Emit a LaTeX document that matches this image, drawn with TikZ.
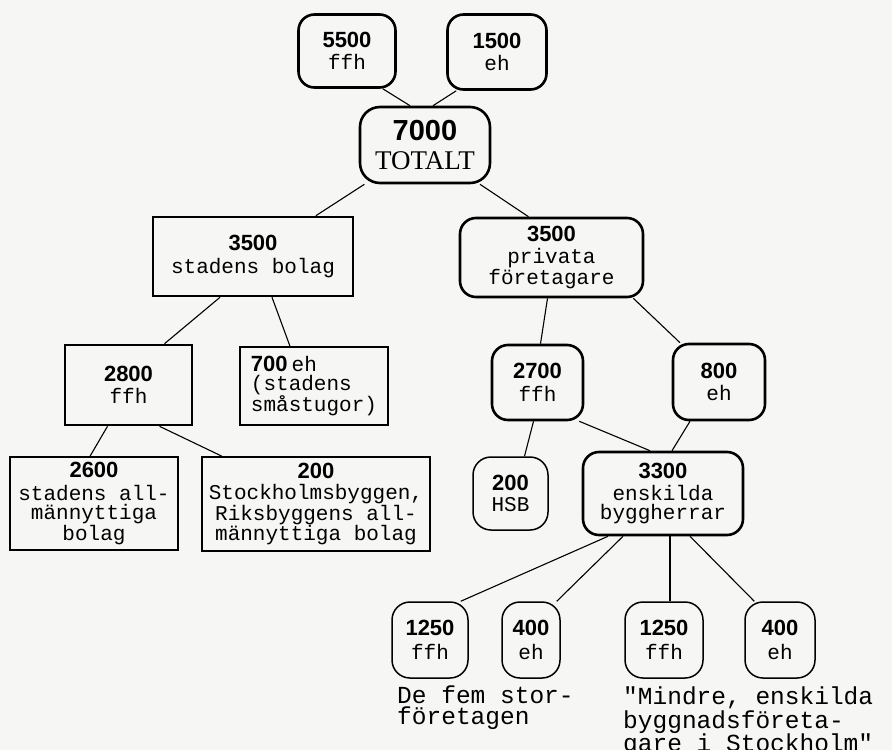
\documentclass[tikz,border=0pt]{standalone}
\usepackage{fontspec}
\setmainfont{Liberation Serif}
\newfontfamily\monofont[Ligatures=TeXOff]{Liberation Mono}
\newfontfamily\sansfont{Liberation Sans}
\newcommand\tal[1]{{\sansfont\bfseries\fontsize{22}{20}\selectfont #1}}
\newcommand\stortal[1]{{\sansfont\bfseries\fontsize{29}{27}\selectfont #1}}
\definecolor{papper}{RGB}{246,246,244}
\begin{document}
\begin{tikzpicture}[x=1pt,y=-1pt,
  ruta/.style={draw,line width=2.6pt,align=center,inner sep=2pt,
    font=\monofont\fontsize{21}{19.5}\selectfont},
  tunn/.style={line width=1.5pt},
  rund/.style={rounded corners=16pt},
  linje/.style={line width=1.1pt},
  bildtext/.style={anchor=north west,align=left,inner sep=0pt,
    font=\monofont\fontsize{24.5}{21}\selectfont}]
  % 背景与边界
  \fill[papper] (0,0) rectangle (892,750);
  \useasboundingbox (0,0) rectangle (892,750);
  % 顶部：总数及其两部分
  \node[ruta,rund,minimum width=97pt,minimum height=73pt] (ffh5500) at (347,51) {\tal{5500}\\[2pt]ffh};
  \node[ruta,rund,minimum width=99pt,minimum height=75pt] (eh1500) at (497,52) {\tal{1500}\\[2pt]eh};
  \node[ruta,rounded corners=20pt,minimum width=130pt,minimum height=76pt,
    font=\fontsize{27}{29}\selectfont] (totalt) at (425,145) {\stortal{7000}\\TOTALT};
  % 第二层：市属公司与私营
  \node[ruta,minimum width=200pt,minimum height=79pt] (stad) at (253,256.5) {\tal{3500}\\[4pt]stadens bolag};
  \node[ruta,rund,minimum width=183pt,minimum height=79pt] (privat) at (551.5,257.5) {\tal{3500}\\[2pt]privata\\företagare};
  % 左侧分支
  \node[ruta,minimum width=127pt,minimum height=80pt] (stadffh) at (128.5,385) {\tal{2800}\\[3pt]ffh};
  \node[ruta,tunn,align=left,minimum width=148pt,minimum height=78pt] (stugor) at (314,386)
    {\tal{700}\hspace{4pt}eh\\(stadens\\småstugor)};
  \node[ruta,tunn,minimum width=168pt,minimum height=93pt] (allm) at (94,503.5)
    {\tal{2600}\\[3pt]stadens all-\\männyttiga\\bolag};
  \node[ruta,tunn,minimum width=228pt,minimum height=94pt] (riks) at (316,504)
    {\tal{200}\\[2pt]Stockholmsbyggen,\\Riksbyggens all-\\männyttiga bolag};
  % 右侧分支
  \node[ruta,rund,minimum width=91pt,minimum height=75pt] (privffh) at (537.5,382.5) {\tal{2700}\\[3pt]ffh};
  \node[ruta,rund,minimum width=92pt,minimum height=76pt] (priveh) at (719,382) {\tal{800}\\[3pt]eh};
  \node[ruta,tunn,rounded corners=18pt,minimum width=75pt,minimum height=73pt] (hsb) at (510.5,493.5) {\tal{200}\\[2pt]HSB};
  \node[ruta,rund,minimum width=160pt,minimum height=83pt] (enskilda) at (663,493.5) {\tal{3300}\\[2pt]enskilda\\byggherrar};
  % 底部四个小框
  \foreach \namn/\cx/\w/\tl/\typ in {storffh/430/76/1250/ffh, storeh/531/58/400/eh,
      mindreffh/664/78/1250/ffh, mindreeh/780/70/400/eh} {
    \node[ruta,tunn,rounded corners=18pt,minimum width=\w pt,minimum height=76pt] (\namn) at (\cx,640) {\tal{\tl}\\[5pt]\typ};
  }
  % 说明文字
  \node[bildtext] (stortext) at (397,686) {De fem stor-\\företagen};
  \node[bildtext] (mindretext) at (623,687) {"Mindre, enskilda\\byggnadsföreta-\\gare i Stockholm"};
  % 连线
  \draw[linje] ([xshift=-14pt]ffh5500.south east) -- ([xshift=-15pt]totalt.north);
  \draw[linje] ([xshift=10pt]eh1500.south west) -- ([xshift=8pt]totalt.north);
  \draw[linje] (totalt) -- (stad);
  \draw[linje] ([xshift=55pt]totalt.south) -- ([xshift=-23pt]privat.north);
  \draw[linje] ([xshift=-33pt]stad.south) -- ([xshift=36pt]stadffh.north);
  \draw[linje] ([xshift=19pt]stad.south) -- ([xshift=-24pt]stugor.north);
  \draw[linje] ([xshift=-21pt]stadffh.south) -- ([xshift=-4pt]allm.north);
  \draw[linje] ([xshift=31pt]stadffh.south) -- ([xshift=-94pt]riks.north);
  \draw[linje] ([xshift=-4pt]privat.south) -- ([xshift=3pt]privffh.north);
  \draw[linje] ([xshift=-11pt]privat.south east) -- ([xshift=-39pt]priveh.north);
  \draw[linje] ([xshift=-4pt]privffh.south) -- ([xshift=14pt]hsb.north);
  \draw[linje] ([xshift=-5pt]privffh.south east) -- ([xshift=-13pt]enskilda.north);
  \draw[linje] ([xshift=-29pt]priveh.south) -- ([xshift=9pt]enskilda.north);
  \draw[linje] ([xshift=-55pt]enskilda.south) -- ([xshift=-8pt]storffh.north east);
  \draw[linje] ([xshift=-40pt]enskilda.south) -- ([xshift=-4pt]storeh.north east);
  \draw[linje] ([xshift=7pt]enskilda.south) -- ([xshift=6pt]mindreffh.north);
  \draw[linje] ([xshift=27pt]enskilda.south) -- ([xshift=10pt]mindreeh.north west);
\end{tikzpicture}
\end{document}
